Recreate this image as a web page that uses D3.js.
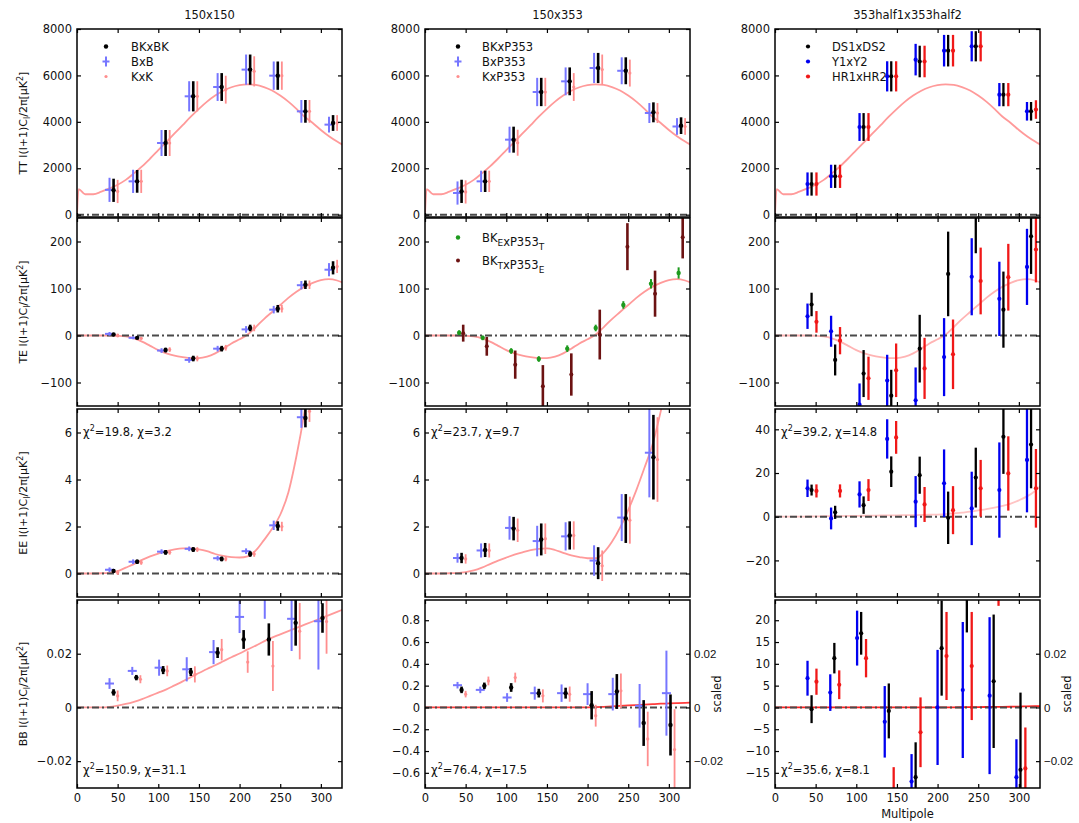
<!DOCTYPE html>
<html>
<head>
<meta charset="utf-8">
<script src="https://cdn.jsdelivr.net/npm/d3@7"></script>
<style>
  body { margin: 0; background: #fff; }
  text { font-family: "DejaVu Sans", "Liberation Sans", Arial, sans-serif; }
  text.narrow { font-family: "Liberation Sans", Arial, sans-serif; }
</style>
</head>
<body>
<svg id="chart" width="1079" height="823"></svg>
<script>
// ---------- multipole bins ----------
const ellTT = [45, 74, 109, 143, 178, 213, 247, 281, 315];   // TT / TE / EE band centres
const ellBB = [45, 73, 106, 140, 173, 205, 236, 269, 302];   // BB band centres

// ---------- model spectra sampled on a multipole grid ----------
const ellGrid = [0, 2, 10, 20, 30, 40, 50, 60, 70, 80, 90, 100, 110, 120, 130, 140, 150, 160, 170,
  180, 190, 200, 210, 220, 230, 240, 250, 260, 270, 280, 290, 300, 310, 320, 330];
const ttModel = [0, 1100, 880, 880, 990, 1130, 1290, 1500, 1780, 2080, 2420, 2780, 3140, 3500, 3860,
  4220, 4560, 4870, 5130, 5340, 5490, 5580, 5610, 5590, 5500, 5350, 5130, 4870, 4560, 4220, 3950,
  3650, 3380, 3150, 2950];
const teModel = [0, 0, 0, 0, 0, 0, -0.5, -2, -6, -13, -22, -31, -38, -43, -46, -48, -48, -45, -38,
  -28, -17, -8, 2, 18, 35, 50, 65, 80, 93, 104, 112, 118, 120, 117, 110];
const ee150Model = [0, 0, 0, 0, 0.01, 0.03, 0.1, 0.25, 0.4, 0.58, 0.73, 0.85, 0.95, 1.03, 1.07, 1.07,
  1.03, 0.95, 0.83, 0.75, 0.7, 0.68, 0.73, 0.98, 1.42, 1.9, 2.5, 3.45, 5.0, 6.9, 9.2, 12, 15, 18.5, 22];
const ee353Model = [0, 0, 0, 0, 0.01, 0.02, 0.06, 0.13, 0.25, 0.4, 0.55, 0.68, 0.8, 0.9, 0.99, 1.05,
  1.07, 1.0, 0.88, 0.77, 0.7, 0.65, 0.65, 0.9, 1.35, 1.95, 2.7, 3.55, 4.5, 5.5, 6.9, 8.5, 10.5, 12.5, 15];
const eeHalfModel = [0, 0, 0, 0, 0.05, 0.1, 0.15, 0.2, 0.25, 0.3, 0.35, 0.4, 0.45, 0.5, 0.55, 0.6,
  0.65, 0.7, 0.75, 0.8, 0.9, 1.0, 1.2, 1.5, 1.9, 2.3, 2.9, 3.5, 4.2, 5.0, 6.0, 7.5, 9.3, 11.8, 15.3];
const bb150Model = [0, 0, 0, 0, 0, 0.0002, 0.0007, 0.0013, 0.0021, 0.0031, 0.0043, 0.0055, 0.0067,
  0.0082, 0.0097, 0.0113, 0.0128, 0.0143, 0.0157, 0.0172, 0.0187, 0.0201, 0.0216, 0.023, 0.0246,
  0.026, 0.0272, 0.0284, 0.0296, 0.0308, 0.032, 0.0332, 0.0344, 0.0356, 0.0368];
const bb353Model = [0, 0, 0, 0, 0, 0, 0, 0, 0, 0, 0, 0, 0, 0, 0, 0, 0, 0, 0, 0, 0, 0.001, 0.003,
  0.006, 0.01, 0.014, 0.018, 0.022, 0.026, 0.03, 0.034, 0.037, 0.04, 0.042, 0.044];
const bbHalfModel = [0, 0, 0, 0, 0, 0, 0, 0, 0, 0, 0, 0, 0, 0, 0, 0, 0, 0, 0, 0, 0, 0, 0, 0.02,
  0.04, 0.06, 0.08, 0.1, 0.12, 0.14, 0.16, 0.2, 0.24, 0.28, 0.32];

// ---------- bandpowers: [value, 1-sigma] ----------
// 150x150
const tt150BK = [[1050,500],[1436,490],[3088,560],[5100,650],[5500,600],[6250,650],[5990,610],[4452,490],[3950,340]];
const tt150B  = [[1070,520],[1436,500],[3088,560],[5100,650],[5500,600],[6250,650],[5990,610],[4452,490],[3880,340]];
const tt150K  = [[1000,500],[1436,500],[3088,560],[5100,650],[5386,600],[6175,650],[5990,610],[4452,490],[3950,340]];
const te150BK = [[2,3],[-5,3],[-31,5],[-49,6],[-28,6],[16,7],[57,8],[108,9],[144,14]];
const te150B  = [[3.5,4],[-5,3],[-32,5],[-52,6],[-28,6],[13,7],[55,8],[107,9],[140,14]];
const te150K  = [[0,4],[-6,3],[-30,5],[-49,6],[-26,6],[16,7],[57,8],[108,9],[147,14]];
const ee150BK = [[0.11,0.08],[0.5,0.09],[0.9,0.1],[1.02,0.1],[0.62,0.1],[0.83,0.12],[2.02,0.2],[6.62,0.4],null];
const ee150B  = [[0.16,0.1],[0.5,0.1],[0.93,0.1],[1.05,0.1],[0.65,0.1],[0.95,0.12],[2.05,0.2],[6.65,0.45],null];
const ee150K  = [[0.04,0.1],[0.47,0.1],[0.9,0.1],[1.02,0.1],[0.62,0.1],[0.83,0.12],[2.0,0.2],[6.9,0.45],null];
const bb150BK = [[0.0056,0.0012],[0.0111,0.001],[0.0139,0.0015],[0.0132,0.0015],[0.0204,0.002],[0.0253,0.0035],[0.0253,0.006],[0.0315,0.0085],[0.0333,0.0055]];
const bb150B  = [[0.0089,0.002],[0.0136,0.0015],[0.0148,0.003],[0.0142,0.0045],[0.0206,0.0045],[0.0337,0.006],[0.041,0.008],[0.033,0.012],[0.0321,0.018]];
const bb150K  = [[0.0043,0.002],[0.0105,0.0015],[0.0136,0.002],[0.0123,0.003],[0.0215,0.004],[0.0169,0.004],[0.0154,0.0093],[0.0284,0.0105],[0.032,0.012]];

// 150x353
const tt353BK = [[1005,500],[1436,460],[3232,560],[5286,610],[5745,600],[6320,650],[6200,580],[4410,430],[3835,360]];
const tt353B  = [[933,500],[1436,460],[3232,560],[5286,610],[5745,600],[6320,650],[6200,580],[4380,430],[3800,360]];
const tt353K  = [[980,500],[1436,460],[3100,560],[5286,610],[5500,600],[6250,650],[6100,580],[4380,430],[3800,360]];
const te353ET = [[6,5],[-5,5],[-33,6],[-50,6],[-28,7],[16,7],[65,8],[110,10],[133,12]];
const te353TE = [[5,18],[-23,20],[-62,30],[-108,45],[-83,45],[2,53],[189,50],[89,49],[209,45]];
const ee353BK = [[0.66,0.22],[1.0,0.3],[1.91,0.5],[1.45,0.68],[1.62,0.6],[0.44,0.68],[2.34,1.04],[4.95,1.8],null];
const ee353B  = [[0.66,0.2],[0.98,0.3],[1.94,0.5],[1.38,0.65],[1.58,0.6],[0.55,0.65],[2.38,1.0],[5.14,1.9],null];
const ee353K  = [[0.62,0.2],[0.98,0.3],[1.84,0.5],[1.48,0.65],[1.62,0.6],[0.33,0.65],[2.27,1.0],[4.85,1.8],null];
const bb353BK = [[0.161,0.03],[0.198,0.03],[0.183,0.04],[0.131,0.04],[0.131,0.05],[0.02,0.13],[0.146,0.16],[-0.143,0.21],[-0.161,0.28]];
const bb353B  = [[0.204,0.03],[0.161,0.03],[0.091,0.04],[0.131,0.06],[0.131,0.08],[0.122,0.1],[0.122,0.15],[0.015,0.2],[0.131,0.39]];
const bb353K  = [[0.122,0.03],[0.243,0.04],[0.274,0.045],[0.106,0.06],[0.122,0.07],[-0.076,0.1],[0.152,0.16],[-0.289,0.25],[-0.386,0.37]];

// 353half1x353half2
const ttHalfDS = [[1321,500],[1652,500],[3777,600],[5960,650],[6600,680],[7066,680],[7255,650],[5172,500],[4454,400]];
const ttHalfY  = [[1321,500],[1652,500],[3777,600],[5960,650],[6680,680],[7066,680],[7255,650],[5172,500],[4454,400]];
const ttHalfHR = [[1321,500],[1652,500],[3777,600],[5960,650],[6600,680],[7066,680],[7255,650],[5172,500],[4530,400]];
const teHalfDS = [[66,25],[-52,33],[-81,50],[-128,55],[-28,72],[131,90],[265,90],[55,81],[211,80]];
const teHalfY  = [[41,27],[9,33],[-147,45],[-96,55],[-138,70],[-46,83],[125,82],[78,79],[146,81]];
const teHalfHR = [[29,23],[-11,29],[-91,46],[-74,57],[-70,65],[-40,74],[116,71],[124,71],[183,70]];
const eeHalfDS = [[12.2,2.5],[2,3],[5.3,4],[20.6,7],[19,8.5],[-0.5,12],[17.9,13.7],[36.6,17],[33,20]];
const eeHalfY  = [[13,4],[-0.8,5],[10.2,6],[35.6,9],[6.9,11.7],[15.3,15.5],[3.8,16.8],[12.2,21.8],[26,24]];
const eeHalfHR = [[11.8,3],[11.8,3],[12.2,5],[36.3,7.5],[5.6,8],[3,11],[13,13],[19.8,17],[13,18]];
const bbHalfDS = [[-0.4,3.2],[11.3,3.5],[17,4.9],[-0.8,6.3],[-16,8],[13.6,10.9],[26,8.8],[6,15.3],[-14.3,17.7]];
const bbHalfY  = [[6.7,4],[3.4,4.2],[15.9,6.3],[-3.3,8.2],[-17,6.3],[0,13.2],[4,15.6],[2.7,18],[-16,8.7]];
const bbHalfHR = [[5.9,3],[5.2,3.3],[11.3,4.4],[-20,6.3],[-5.7,8],[11.8,10.1],[9.5,12.4],[35,11.7],[-14,9.4]];

// ---------- tick values ----------
const xTicks = [0, 50, 100, 150, 200, 250, 300];
const ttTicks = [0, 2000, 4000, 6000, 8000];
const teTicks = [-100, 0, 100, 200];
const eeTicks = [0, 2, 4, 6];
const eeHalfTicks = [-20, 0, 20, 40];
const bb150Ticks = [-0.02, 0, 0.02];
const bb353Ticks = [-0.6, -0.4, -0.2, 0, 0.2, 0.4, 0.6, 0.8];
const bbHalfTicks = [-15, -10, -5, 0, 5, 10, 15, 20];
const scaledTicks = [-0.02, 0, 0.02];

const columnTitles = ["150x150", "150x353", "353half1x353half2"];
const rowNames = ["TT", "TE", "EE", "BB"];

// ---------- layout ----------
const svg = d3.select("#chart");
const colLeft = [77, 425, 775];
const plotW = 265;
const rowTop = [29, 218, 409, 600];
const rowBot = [217, 406, 597, 788];
const xDomain = [0, 326];
const FONT = 11.5;

// scaled (right-hand) BB axis shared by columns 2 and 3
const scaledDomain = [-0.03, 0.04];
const k353 = 24.64, kHalf = 616;

// ---------- series styles ----------
const stBlackA = { dx: 0,  color: "#000000", w: 2.6, marker: "dot",  r: 2.2 };
const stBlueA  = { dx: -5, color: "#7676ff", w: 2.0, marker: "plus", arm: 4.5 };
const stRedA   = { dx: 5,  color: "#ff8e8e", w: 1.8, marker: "dot",  r: 1.6 };
const stBlack3 = { dx: 0,  color: "#000000", w: 2.3, marker: "dot",  r: 2.1 };
const stBlue3  = { dx: -5, color: "#0000f0", w: 2.3, marker: "dot",  r: 2.1 };
const stRed3   = { dx: 6,  color: "#f01818", w: 2.3, marker: "dot",  r: 2.1 };
const stGreen  = { dx: -3, color: "#1d9a1d", w: 2.0, marker: "dot",  r: 2.2 };
const stDark   = { dx: 2,  color: "#6c1212", w: 2.6, marker: "dot",  r: 2.0 };

const modelPink = "#ff9a9a";

const panels = [
  { col: 0, row: 0, dom: [-100, 8000], ticks: ttTicks, ell: ellTT, model: ttModel, mc: modelPink,
    series: [[tt150B, stBlueA], [tt150K, stRedA], [tt150BK, stBlackA]] },
  { col: 1, row: 0, dom: [-100, 8000], ticks: ttTicks, ell: ellTT, model: ttModel, mc: modelPink,
    series: [[tt353B, stBlueA], [tt353K, stRedA], [tt353BK, stBlackA]] },
  { col: 2, row: 0, dom: [-100, 8000], ticks: ttTicks, ell: ellTT, model: ttModel, mc: modelPink,
    series: [[ttHalfY, stBlue3], [ttHalfHR, stRed3], [ttHalfDS, stBlack3]] },
  { col: 0, row: 1, dom: [-150, 250], ticks: teTicks, ell: ellTT, model: teModel, mc: modelPink,
    series: [[te150B, stBlueA], [te150K, stRedA], [te150BK, stBlackA]] },
  { col: 1, row: 1, dom: [-150, 250], ticks: teTicks, ell: ellTT, model: teModel, mc: modelPink,
    series: [[te353ET, stGreen], [te353TE, stDark]] },
  { col: 2, row: 1, dom: [-150, 250], ticks: teTicks, ell: ellTT, model: teModel, mc: "#ffb4b4",
    series: [[teHalfY, stBlue3], [teHalfHR, stRed3], [teHalfDS, stBlack3]] },
  { col: 0, row: 2, dom: [-1, 7], ticks: eeTicks, ell: ellTT, model: ee150Model, mc: modelPink,
    series: [[ee150B, stBlueA], [ee150K, stRedA], [ee150BK, stBlackA]], chi: ["19.8", "3.2"] },
  { col: 1, row: 2, dom: [-1, 7], ticks: eeTicks, ell: ellTT, model: ee353Model, mc: modelPink,
    series: [[ee353B, stBlueA], [ee353K, stRedA], [ee353BK, stBlackA]], chi: ["23.7", "9.7"] },
  { col: 2, row: 2, dom: [-36.75, 49.3], ticks: eeHalfTicks, ell: ellTT, model: eeHalfModel, mc: "#ffc4c4",
    series: [[eeHalfY, stBlue3], [eeHalfHR, stRed3], [eeHalfDS, stBlack3]], chi: ["39.2", "14.8"] },
  { col: 0, row: 3, dom: scaledDomain, ticks: bb150Ticks, ell: ellBB, model: bb150Model, mc: modelPink,
    series: [[bb150B, stBlueA], [bb150K, stRedA], [bb150BK, stBlackA]], chi: ["150.9", "31.1"],
    tickFmt: d3.format(".2f") },
  { col: 1, row: 3, dom: scaledDomain.map(v => v * k353), ticks: bb353Ticks, ell: ellBB, model: bb353Model, mc: "#ff3c3c",
    series: [[bb353B, stBlueA], [bb353K, stRedA], [bb353BK, stBlackA]], chi: ["76.4", "17.5"],
    tickFmt: d3.format(".1f"), scaled: true },
  { col: 2, row: 3, dom: scaledDomain.map(v => v * kHalf), ticks: bbHalfTicks, ell: ellBB, model: bbHalfModel, mc: "#ff2020",
    series: [[bbHalfY, stBlue3], [bbHalfHR, stRed3], [bbHalfDS, stBlack3]], chi: ["35.6", "8.1"], scaled: true }
];

function label(v, fmt) {
  if (v === 0) return "0";
  const s = fmt ? fmt(v) : String(v);
  return s.replace("-", "\u2212");
}

function styleAxis(g, size) {
  g.attr("font-size", size || FONT);
  g.select(".domain").remove();
  g.selectAll(".tick line").attr("stroke", "#000").attr("stroke-width", 1.2);
  g.selectAll(".tick text").attr("fill", "#111");
}

panels.forEach((p, idx) => {
  const x0 = colLeft[p.col], x1 = x0 + plotW, y0 = rowTop[p.row], y1 = rowBot[p.row];
  const x = d3.scaleLinear().domain(xDomain).range([x0, x1]);
  const y = d3.scaleLinear().domain(p.dom).range([y1, y0]);

  const clipId = "clip" + idx;
  svg.append("clipPath").attr("id", clipId)
    .append("rect").attr("x", x0).attr("y", y0).attr("width", plotW).attr("height", y1 - y0);

  const g = svg.append("g");
  const inner = g.append("g").attr("clip-path", `url(#${clipId})`);

  // model curve
  const line = d3.line().x(d => x(d[0])).y(d => y(d[1])).curve(d3.curveMonotoneX);
  inner.append("path")
    .datum(ellGrid.map((l, i) => [l, p.model[i]]))
    .attr("d", line)
    .attr("fill", "none")
    .attr("stroke", p.mc)
    .attr("stroke-width", 1.8);

  // zero reference line
  inner.append("line")
    .attr("x1", x(xDomain[0])).attr("x2", x(xDomain[1]))
    .attr("y1", y(0)).attr("y2", y(0))
    .attr("stroke", "#4a4a4a").attr("stroke-width", 2)
    .attr("stroke-dasharray", "7,3,2,3");

  // bandpowers with error bars
  p.series.forEach(([data, st]) => {
    const pts = data.map((d, i) => d ? { l: p.ell[i] + st.dx, v: d[0], e: d[1] } : null).filter(Boolean);
    const s = inner.append("g");
    s.selectAll("line.err").data(pts).enter().append("line")
      .attr("class", "err")
      .attr("x1", d => x(d.l)).attr("x2", d => x(d.l))
      .attr("y1", d => y(d.v - d.e)).attr("y2", d => y(d.v + d.e))
      .attr("stroke", st.color).attr("stroke-width", st.w);
    if (st.marker === "plus") {
      s.selectAll("line.mk").data(pts).enter().append("line")
        .attr("class", "mk")
        .attr("x1", d => x(d.l) - st.arm).attr("x2", d => x(d.l) + st.arm)
        .attr("y1", d => y(d.v)).attr("y2", d => y(d.v))
        .attr("stroke", st.color).attr("stroke-width", 2);
    } else {
      s.selectAll("circle").data(pts).enter().append("circle")
        .attr("cx", d => x(d.l)).attr("cy", d => y(d.v)).attr("r", st.r)
        .attr("fill", st.color);
    }
  });

  // frame
  g.append("rect").attr("x", x0).attr("y", y0).attr("width", plotW).attr("height", y1 - y0)
    .attr("fill", "none").attr("stroke", "#000").attr("stroke-width", 1.5);

  // x ticks (inward, top and bottom)
  const bottom = g.append("g").attr("transform", `translate(0,${y1})`)
    .call(d3.axisBottom(x).tickValues(xTicks).tickSizeInner(-4).tickSizeOuter(0).tickPadding(6)
      .tickFormat(p.row === 3 ? (d => String(d)) : (() => "")));
  styleAxis(bottom);
  const top = g.append("g").attr("transform", `translate(0,${y0})`)
    .call(d3.axisTop(x).tickValues(xTicks).tickSizeInner(-4).tickSizeOuter(0).tickFormat(() => ""));
  styleAxis(top);

  // y ticks (inward, left with labels)
  const left = g.append("g").attr("transform", `translate(${x0},0)`)
    .call(d3.axisLeft(y).tickValues(p.ticks).tickSizeInner(-4).tickSizeOuter(0).tickPadding(5)
      .tickFormat(d => label(d, p.tickFmt)));
  styleAxis(left);

  if (p.scaled) {
    const ys = d3.scaleLinear().domain(scaledDomain).range([y1, y0]);
    const right = g.append("g").attr("transform", `translate(${x1},0)`)
      .call(d3.axisRight(ys).tickValues(scaledTicks).tickSizeInner(-4).tickSizeOuter(0).tickPadding(4)
        .tickFormat(d => label(d, d3.format(".2f"))));
    styleAxis(right, 11.5);
    right.selectAll(".tick text").attr("class", "narrow");
    g.append("text")
      .attr("transform", `translate(${x1 + 31},${(y0 + y1) / 2}) rotate(-90)`)
      .attr("text-anchor", "middle").attr("font-size", FONT).attr("fill", "#111")
      .text("scaled");
  } else {
    const right = g.append("g").attr("transform", `translate(${x1},0)`)
      .call(d3.axisRight(y).tickValues(p.ticks).tickSizeInner(-4).tickSizeOuter(0).tickFormat(() => ""));
    styleAxis(right);
  }

  // chi-square annotation
  if (p.chi) {
    const ty = p.row === 2 ? y0 + 27 : y1 - 14;
    const t = g.append("text").attr("x", x0 + 6).attr("y", ty).attr("font-size", FONT).attr("fill", "#111");
    t.append("tspan").text("\u03c7");
    t.append("tspan").attr("dy", -5).attr("font-size", 8).text("2");
    t.append("tspan").attr("dy", 5).text(`=${p.chi[0]}, \u03c7=${p.chi[1]}`);
  }
});

// ---------- column titles ----------
columnTitles.forEach((t, c) => {
  svg.append("text").attr("x", colLeft[c] + plotW / 2).attr("y", 19)
    .attr("text-anchor", "middle").attr("font-size", FONT).attr("fill", "#111").text(t);
});

// ---------- y labels ----------
rowNames.forEach((n, r) => {
  const cy = (rowTop[r] + rowBot[r]) / 2;
  const t = svg.append("text").attr("transform", `translate(27,${cy}) rotate(-90)`)
    .attr("text-anchor", "middle").attr("font-size", 11).attr("fill", "#111");
  t.append("tspan").text(`${n} l(l+1)C`);
  t.append("tspan").attr("dy", 3).attr("font-size", 8).text("l");
  t.append("tspan").attr("dy", -3).text("/2\u03c0[\u03bcK");
  t.append("tspan").attr("dy", -4).attr("font-size", 8).text("2");
  t.append("tspan").attr("dy", 4).text("]");
});

// ---------- x label ----------
svg.append("text").attr("x", colLeft[2] + plotW / 2).attr("y", 818)
  .attr("text-anchor", "middle").attr("font-size", FONT).attr("fill", "#111").text("Multipole");

// ---------- legends ----------
function drawLegend(mx, tx, ys, entries) {
  entries.forEach((e, i) => {
    const yy = ys[i];
    const st = e.st;
    if (st.marker === "plus") {
      svg.append("line").attr("x1", mx).attr("x2", mx).attr("y1", yy - 5).attr("y2", yy + 5)
        .attr("stroke", st.color).attr("stroke-width", 2);
      svg.append("line").attr("x1", mx - 3.5).attr("x2", mx + 3.5).attr("y1", yy).attr("y2", yy)
        .attr("stroke", st.color).attr("stroke-width", 2);
    } else {
      svg.append("circle").attr("cx", mx).attr("cy", yy).attr("r", st.r).attr("fill", st.color);
    }
    const t = svg.append("text").attr("x", tx).attr("y", yy + 4).attr("font-size", FONT).attr("fill", "#111");
    e.parts.forEach(([txt, sub]) => {
      if (sub) {
        t.append("tspan").attr("dy", 4).attr("font-size", 9).text(txt);
        t.append("tspan").attr("dy", -4).text("");
      } else {
        t.append("tspan").text(txt);
      }
    });
  });
}

drawLegend(106, 131, [46.5, 61.5, 76.5], [
  { st: stBlackA, parts: [["BKxBK"]] },
  { st: stBlueA, parts: [["BxB"]] },
  { st: stRedA, parts: [["KxK"]] }
]);
drawLegend(458, 482, [46.5, 61.5, 76.5], [
  { st: stBlackA, parts: [["BKxP353"]] },
  { st: stBlueA, parts: [["BxP353"]] },
  { st: stRedA, parts: [["KxP353"]] }
]);
drawLegend(808, 832, [46.5, 61.5, 76.5], [
  { st: stBlack3, parts: [["DS1xDS2"]] },
  { st: stBlue3, parts: [["Y1xY2"]] },
  { st: stRed3, parts: [["HR1xHR2"]] }
]);
drawLegend(458, 482, [237.5, 260.5], [
  { st: stGreen, parts: [["BK"], ["E", true], ["xP353"], ["T", true]] },
  { st: stDark, parts: [["BK"], ["T", true], ["xP353"], ["E", true]] }
]);
</script>
</body>
</html>
